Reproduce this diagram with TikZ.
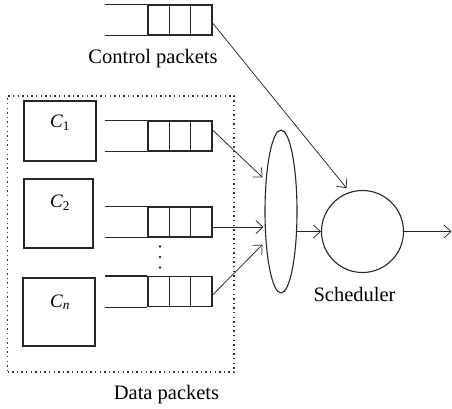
\documentclass[tikz,border=0pt]{standalone}
\usepackage{fontspec}
\setmainfont{Liberation Serif}
\usetikzlibrary{shapes.geometric,arrows.meta}
\begin{document}
\begin{tikzpicture}[x=1pt,y=-1pt,
  ink/.style={draw=black!85, line width=1.1pt},
  qcells/.style={ink, minimum width=64pt, minimum height=30pt, inner sep=0pt,
    path picture={
      \draw[black!85, line width=1.1pt]
        ([xshift=21.33pt]path picture bounding box.north west) -- ([xshift=21.33pt]path picture bounding box.south west)
        ([xshift=42.67pt]path picture bounding box.north west) -- ([xshift=42.67pt]path picture bounding box.south west);
    }},
  cbox/.style={ink, inner sep=0pt},
  lab/.style={font=\fontsize{20.5}{24}\selectfont, inner sep=0pt, anchor=base},
  clab/.style={font=\fontsize{19}{22}\selectfont, inner sep=0pt},
  arr/.style={draw=black!85, line width=0.75pt, -{Straight Barb[length=7pt,width=13pt,line width=0.75pt]}},
  dotbox/.style={draw=black!80, line width=1.2pt, dash pattern=on 1.4pt off 3.2pt, inner sep=0pt}
]
\useasboundingbox (0,0) rectangle (452,408);

% dotted data-packet frame
\node[dotbox, minimum width=226.5pt, minimum height=276pt] (frame) at (120.75,234) {};

% control queue
\node[qcells] (cq) at (180,20) {};
\draw[ink] (cq.north west) -- ++(-42,0) (cq.south west) -- ++(-42,0);
\node[lab] (ctl) at (153,63) {Control packets};

% data sources
\node[cbox, minimum width=72pt, minimum height=60pt] (c1) at (60,131) {};
\node[clab] (c1l) at (60,123) {\textit{C}\textsubscript{1}};
\node[cbox, minimum width=69pt, minimum height=69pt] (c2) at (58.5,213.5) {};
\node[clab] (c2l) at (60,203) {\textit{C}\textsubscript{2}};
\node[cbox, minimum width=72pt, minimum height=68pt] (cn) at (59,312) {};
\node[clab] (cnl) at (60,302) {\textit{C}\textsubscript{\textit{n}}};

% data queues
\node[qcells] (q1) at (180,136) {};
\draw[ink] (q1.north west) -- ++(-42,0) (q1.south west) -- ++(-42,0);
\node[qcells] (q2) at (180,222) {};
\draw[ink] (q2.north west) -- ++(-42,0) (q2.south west) -- ++(-42,0);
\node[qcells] (qn) at (180,291.5) {};
\draw[ink] (qn.north west) -- ++(-42,0) (qn.south west) -- ++(-42,0);

% vertical dots
\fill[black!85] (160,246.5) circle (1.3pt) (160,257) circle (1.3pt) (160,267.5) circle (1.3pt);

% multiplexer ellipse and scheduler
\node[ellipse, ink, minimum width=32pt, minimum height=163pt, inner sep=0pt] (mux) at (281,211.5) {};
\node[circle, ink, minimum size=82pt, inner sep=0pt] (sched) at (362.5,231.5) {};
\node[lab] (schl) at (354.5,301) {Scheduler};
\node[lab] (datal) at (166.5,399.5) {Data packets};

\coordinate (out) at (451.5,231.5);

% connectors
\draw[arr, shorten >=5pt] ([yshift=-3pt]cq.east) -- (sched.108);
\draw[arr] ([yshift=6pt]q1.east) -- ([shift={(-3pt,5pt)}]mux.118);
\draw[arr] ([yshift=-5pt]q2.east) -- ([yshift=-5pt,xshift=-1pt]q2.east -| mux.west);
\draw[arr] ([yshift=-3.5pt]qn.east) -- ([shift={(-3pt,-4pt)}]mux.242);
\draw[arr] ([xshift=-2pt]sched.west -| mux.east) -- (sched.west);
\draw[arr] (sched.east) -- (out);
\end{tikzpicture}
\end{document}
